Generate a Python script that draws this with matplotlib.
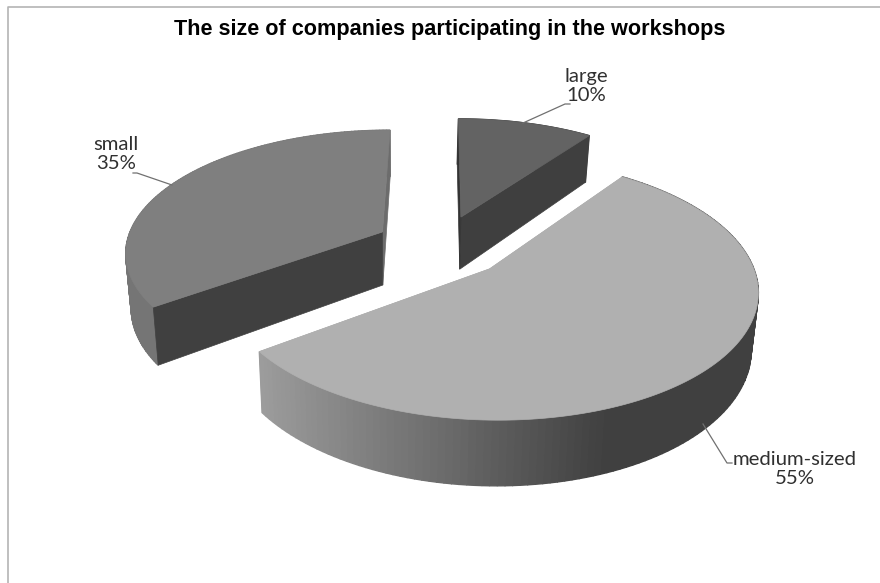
import numpy as np
import matplotlib
matplotlib.use('Agg')
import matplotlib.pyplot as plt
from matplotlib.colors import to_rgb

title = 'The size of companies participating in the workshops'
categories = ['large', 'medium-sized', 'small']
shares = [10, 55, 35]

# pie placement on the page, in pixels
CX, CY = 441.0, 246.0
RX, RY = 257.0, 121.0
PERSP = 0.15
EXPLODE = 0.26
DEPTH = 54.0
FLOOR_SHRINK = 0.98


def project(u, v, low=False):
    # disc coordinates to the page, with a little perspective going backwards
    w = 1 + PERSP * v
    x = CX + RX * u / w
    y = CY - RY * v / w
    if low:
        x = 400 + (x - 400) * FLOOR_SHRINK
        y = y + DEPTH / w
    return x, y


def mix(c1, c2, t):
    c1, c2 = np.array(to_rgb(c1)), np.array(to_rgb(c2))
    return tuple(c1 + (c2 - c1) * t)


def draw_face(ax, ou, ov, ang, col):
    eu, ev = ou + np.sin(ang), ov + np.cos(ang)
    a1, a2 = project(ou, ov), project(eu, ev)
    b1, b2 = project(ou, ov, True), project(eu, ev, True)
    ax.fill([a1[0], a2[0], b2[0], b1[0]], [a1[1], a2[1], b2[1], b1[1]],
            color=col, lw=0.5, zorder=2)


def draw_slice(ax, start, stop, top, face_start, face_stop, wall_left, wall_right, walls_last=False):
    mid = (start + stop) / 2
    ou, ov = EXPLODE * np.sin(mid), EXPLODE * np.cos(mid)
    th = np.linspace(start, stop, 140)
    u = ou + np.sin(th)
    v = ov + np.cos(th)
    xt, yt = project(u, v)
    xb, yb = project(u, v, True)

    if walls_last:
        draw_face(ax, ou, ov, stop, face_stop)
        draw_face(ax, ou, ov, start, face_start)

    # outer wall in thin strips, shaded left to right
    for i in range(len(th) - 1):
        t = np.clip((xt[i] - 262) / (610 - 262), 0, 1)
        col = mix(wall_left, wall_right, t)
        ax.fill([xt[i], xt[i + 1], xb[i + 1], xb[i]],
                [yt[i], yt[i + 1], yb[i + 1], yb[i]],
                color=col, lw=1.0, zorder=2)

    if not walls_last:
        draw_face(ax, ou, ov, stop, face_stop)
        draw_face(ax, ou, ov, start, face_start)

    ox, oy = project(ou, ov)
    ax.fill(np.r_[ox, xt], np.r_[oy, yt], color=top, lw=0.5, zorder=3)


fig = plt.figure(figsize=(8.8, 5.83), dpi=100)
ax = fig.add_axes([0, 0, 1, 1])
ax.set_xlim(0, 880)
ax.set_ylim(583, 0)
ax.axis('off')

# chart frame, only the left and top edges are in the page
ax.plot([8, 8, 880], [583, 7, 7], color='#b4b4b4', lw=1.2, zorder=1)

edges = np.cumsum([0] + shares) / sum(shares) * 2 * np.pi
draw_slice(ax, edges[0], edges[1], '#636363', '#333333', '#3f3f3f', '#4a4a4a', '#4a4a4a')
draw_slice(ax, edges[2], edges[3], '#7f7f7f', '#404040', '#6c6c6c', '#757575', '#757575')
draw_slice(ax, edges[1], edges[2], '#b0b0b0', '#b0b0b0', '#b0b0b0', '#9c9c9c', '#404040', walls_last=True)

ax.text(450, 29, title, family='Liberation Sans', fontweight='bold', fontsize=15.6,
        ha='center', va='center', color='black')

label_font = dict(family='Lato', fontsize=14.6, color='#303030', ha='center', va='center')
ax.text(586, 86, f'{categories[0]}\n{shares[0]}%', linespacing=1.1, **label_font)
ax.text(795, 469, f'{categories[1]}\n{shares[1]}%', linespacing=1.1, **label_font)
ax.text(116, 154, f'{categories[2]}\n{shares[2]}%', linespacing=1.1, **label_font)

# leader lines
ax.plot([523, 565, 570], [123, 104, 104], color='#707070', lw=0.9, zorder=4)
ax.plot([172, 137, 133], [185, 173, 173], color='#707070', lw=0.9, zorder=4)
ax.plot([703, 727, 732], [424, 463, 463], color='#707070', lw=0.9, zorder=4)

fig.savefig('out.png', dpi=100)
